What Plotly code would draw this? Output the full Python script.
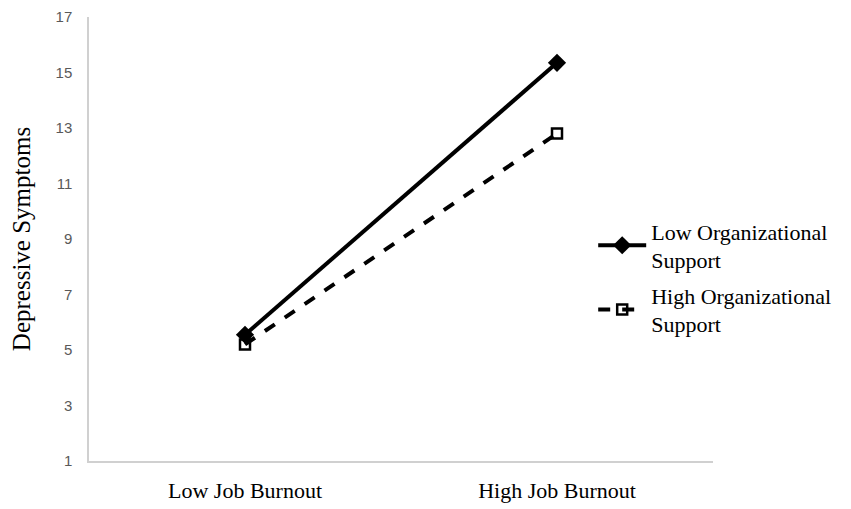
import plotly.graph_objects as go

categories = ["Low Job Burnout", "High Job Burnout"]
low_support = [5.55, 15.35]
high_support = [5.2, 12.8]
series_names = ["Low Organizational<br>Support", "High Organizational<br>Support"]
y_ticks = [1, 3, 5, 7, 9, 11, 13, 15, 17]

fig = go.Figure()
fig.add_trace(go.Scatter(
    x=categories, y=high_support, name=series_names[1], mode="lines+markers",
    line=dict(color="black", width=4, dash="dash"),
    marker=dict(symbol="square-open", size=10, color="black", line=dict(width=2.5, color="black")),
    legendrank=2, legendgroup="b",
))
fig.add_trace(go.Scatter(
    x=categories, y=low_support, name=series_names[0], mode="lines+markers",
    line=dict(color="black", width=4),
    marker=dict(symbol="diamond", size=14, color="black"),
    legendrank=1, legendgroup="a",
))

fig.update_layout(
    width=843, height=501,
    margin=dict(l=81, r=138, t=9, b=48),
    plot_bgcolor="white", paper_bgcolor="white",
    showlegend=True,
    legend=dict(x=0.808, y=0.413, xanchor="left", yanchor="middle",
                font=dict(family="Liberation Serif", size=22, color="black"),
                bgcolor="rgba(0,0,0,0)", tracegroupgap=4, itemwidth=48),
    xaxis=dict(
        type="category", range=[-0.5, 1.5], automargin=False,
        showline=True, linecolor="#d0d0d0", linewidth=1.5,
        showgrid=False, ticks="", ticklabelstandoff=9,
        tickfont=dict(family="Liberation Serif", size=22, color="black"),
    ),
    yaxis=dict(
        range=[1, 17], tickvals=y_ticks, automargin=False,
        ticklabeloverflow="allow",
        showline=True, linecolor="#d0d0d0", linewidth=1.5,
        showgrid=False, zeroline=False, ticks="", ticklabelstandoff=12,
        tickfont=dict(family="Liberation Sans", size=15, color="#595959"),
        title=dict(text="Depressive Symptoms", standoff=20,
                   font=dict(family="Liberation Serif", size=25, color="black")),
    ),
)

fig.write_html("out.html")
